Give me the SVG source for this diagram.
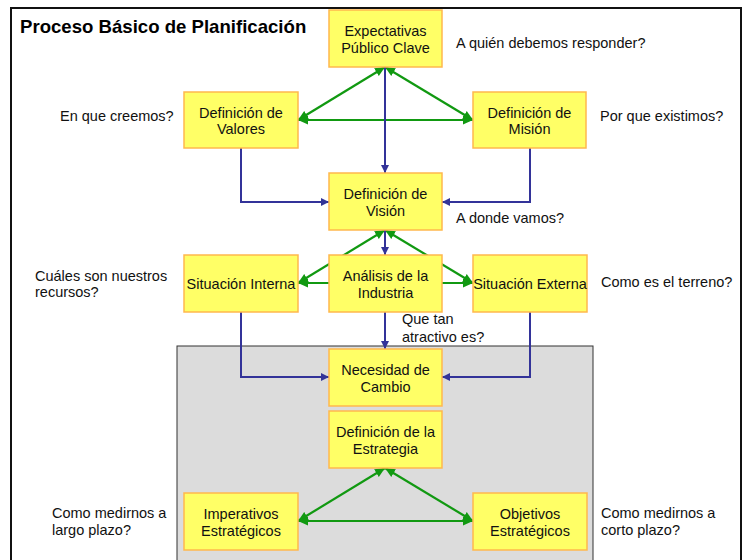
<svg xmlns="http://www.w3.org/2000/svg" width="744" height="560" viewBox="0 0 744 560">
<defs>
<style>
.box{fill:#FFFF66;stroke:#FFB84D;stroke-width:1.5}
.t{font-family:"Liberation Sans",Arial,sans-serif;font-size:14.5px;fill:#111}
.c{text-anchor:middle}
.g{stroke:#119911;stroke-width:2.2;fill:none;marker-start:url(#ga);marker-end:url(#ga)}
.b{stroke:#333399;stroke-width:2;fill:none;marker-end:url(#ba)}
</style>
<marker id="ga" markerUnits="userSpaceOnUse" markerWidth="11" markerHeight="10" refX="10" refY="5" orient="auto-start-reverse"><path d="M0,0.5 L10,5 L0,9.5 z" fill="#119911"/></marker>
<marker id="ba" markerUnits="userSpaceOnUse" markerWidth="9" markerHeight="8" refX="8" refY="4" orient="auto"><path d="M0,0 L8,4 L0,8 z" fill="#333399"/></marker>
</defs>
<rect x="11" y="8" width="730" height="560" fill="#fff" stroke="#111" stroke-width="2"/>
<rect x="177" y="346" width="416" height="230" fill="#DCDCDC" stroke="#333" stroke-width="1"/>
<text x="20" y="33" font-family="Liberation Sans,Arial,sans-serif" font-weight="bold" font-size="18.6" fill="#000">Proceso Básico de Planificación</text>
<g id="connectors">
<line class="g" x1="385" y1="67" x2="298" y2="120"/>
<line class="g" x1="385" y1="67" x2="473" y2="120"/>
<line class="g" x1="298" y1="120" x2="473" y2="120"/>
<line class="b" x1="385" y1="67" x2="385" y2="173"/>
<polyline class="b" points="241,148 241,202 329,202"/>
<polyline class="b" points="530,148 530,202 442,202"/>
<line class="g" x1="385" y1="230" x2="298" y2="283"/>
<line class="g" x1="385" y1="230" x2="473" y2="283"/>
<line class="g" x1="298" y1="283" x2="473" y2="283"/>
<line class="b" x1="385" y1="230" x2="385" y2="255"/>
<line class="b" x1="385" y1="312" x2="385" y2="349"/>
<polyline class="b" points="241,312 241,377 329,377"/>
<polyline class="b" points="530,312 530,377 442,377"/>
<line class="g" x1="385" y1="468" x2="298" y2="521"/>
<line class="g" x1="385" y1="468" x2="473" y2="521"/>
<line class="g" x1="298" y1="521" x2="473" y2="521"/>
</g>
<g id="expectativas"><rect class="box" x="329" y="10" width="113" height="57"/><text class="t c" x="385.5" y="36">Expectativas</text><text class="t c" x="385.5" y="52.5">Público Clave</text></g>
<g id="valores"><rect class="box" x="184" y="92" width="114" height="56"/><text class="t c" x="241" y="117.5">Definición de</text><text class="t c" x="241" y="134">Valores</text></g>
<g id="mision"><rect class="box" x="473" y="92" width="113" height="56"/><text class="t c" x="529.5" y="117.5">Definición de</text><text class="t c" x="529.5" y="134">Misión</text></g>
<g id="vision"><rect class="box" x="329" y="173" width="113" height="57"/><text class="t c" x="385.5" y="199">Definición de</text><text class="t c" x="385.5" y="215.5">Visión</text></g>
<g id="interna"><rect class="box" x="184" y="255" width="114" height="57"/><text class="t c" x="241" y="288.5">Situación Interna</text></g>
<g id="analisis"><rect class="box" x="329" y="255" width="113" height="57"/><text class="t c" x="385.5" y="281">Análisis de la</text><text class="t c" x="385.5" y="297.5">Industria</text></g>
<g id="externa"><rect class="box" x="473" y="255" width="114" height="57"/><text class="t c" x="530" y="288.5">Situación Externa</text></g>
<g id="necesidad"><rect class="box" x="329" y="349" width="113" height="57"/><text class="t c" x="385.5" y="375">Necesidad de</text><text class="t c" x="385.5" y="391.5">Cambio</text></g>
<g id="estrategia"><rect class="box" x="329" y="411" width="113" height="57"/><text class="t c" x="385.5" y="437">Definición de la</text><text class="t c" x="385.5" y="453.5">Estrategia</text></g>
<g id="imperativos"><rect class="box" x="184" y="493" width="114" height="57"/><text class="t c" x="241" y="519">Imperativos</text><text class="t c" x="241" y="535.5">Estratégicos</text></g>
<g id="objetivos"><rect class="box" x="473" y="493" width="114" height="57"/><text class="t c" x="530" y="519">Objetivos</text><text class="t c" x="530" y="535.5">Estratégicos</text></g>
<g id="labels">
<text class="t" x="456" y="48">A quién debemos responder?</text>
<text class="t" x="60" y="120.5">En que creemos?</text>
<text class="t" x="600" y="120.5">Por que existimos?</text>
<text class="t" x="456" y="223">A donde vamos?</text>
<text class="t" x="35" y="280.5">Cuáles son nuestros</text>
<text class="t" x="35" y="297">recursos?</text>
<text class="t" x="601" y="287">Como es el terreno?</text>
<text class="t" x="402" y="324">Que tan</text>
<text class="t" x="402" y="341.5">atractivo es?</text>
<text class="t" x="52" y="518">Como medirnos a</text>
<text class="t" x="52" y="535">largo plazo?</text>
<text class="t" x="601" y="518">Como medirnos a</text>
<text class="t" x="601" y="535">corto plazo?</text>
</g>
</svg>
